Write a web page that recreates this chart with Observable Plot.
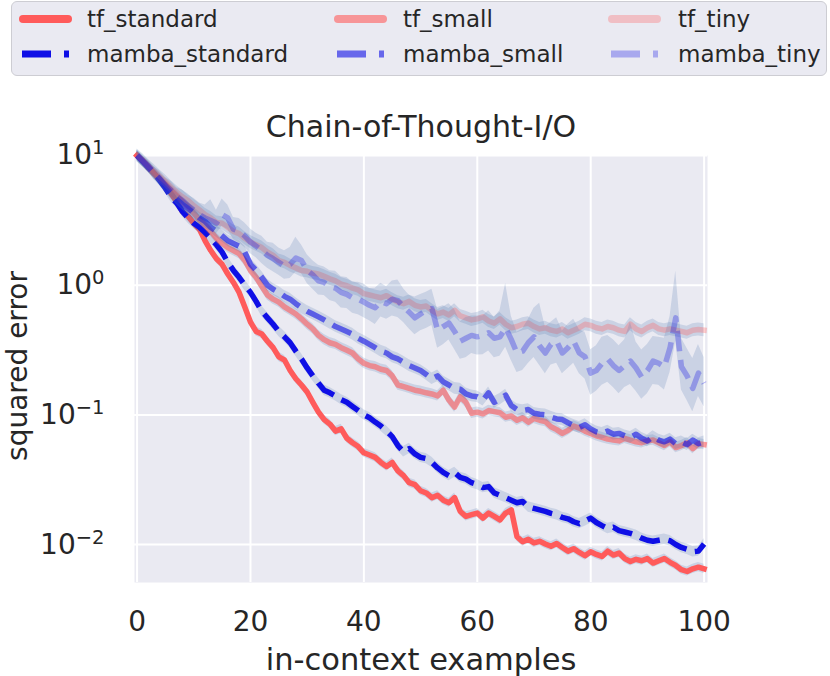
<!DOCTYPE html>
<html>
<head>
<meta charset="utf-8">
<script src="https://cdn.jsdelivr.net/npm/d3@7"></script>
<script src="https://cdn.jsdelivr.net/npm/@observablehq/plot@0.6"></script>
<style>
  html, body { margin: 0; padding: 0; background: #ffffff; }
  body { width: 830px; height: 676px; position: relative; overflow: hidden; font-family: "DejaVu Sans", sans-serif; color: #262626; }
  #legend { position: absolute; left: 11px; top: 1px; width: 816px; height: 75px; box-sizing: border-box;
            border: 1.5px solid #cdcdd3; border-radius: 6px; background: #eaeaf2; }
  .entry { position: absolute; height: 30px; }
  .entry svg { position: absolute; left: 0; top: 0; }
  .entry span { position: absolute; top: 0; line-height: 30px; font-size: 23px; white-space: nowrap; color: #262626; }
  #chart { position: absolute; left: 0; top: 80px; }
</style>
</head>
<body>
<div id="legend"></div>
<div id="chart"></div>
<script>
// ---------------- data ----------------
const xTicks = [0, 20, 40, 60, 80, 100];
const yTicks = [10, 1, 0.1, 0.01];
const seriesNames = ["tf_standard", "mamba_standard", "tf_small", "mamba_small", "tf_tiny", "mamba_tiny"];
const examples = d3.range(0, 101);

const tfStandard = [10,9.1,8.0,7.3,6.5,5.9,5.1,4.4,3.7,3.4,
  3.0,2.7,2.2,1.85,1.6,1.45,1.22,1.05,0.88,0.68,
  0.52,0.44,0.42,0.37,0.33,0.28,0.265,0.22,0.19,0.17,
  0.15,0.125,0.105,0.092,0.085,0.075,0.078,0.066,0.061,0.057,
  0.051,0.049,0.047,0.043,0.040,0.043,0.037,0.034,0.030,0.029,
  0.026,0.025,0.023,0.024,0.022,0.021,0.023,0.018,0.0165,0.017,
  0.0175,0.016,0.0175,0.0165,0.0155,0.0175,0.0185,0.0115,0.0105,0.011,
  0.0103,0.0106,0.0101,0.0097,0.0102,0.0095,0.0089,0.0093,0.0087,0.0082,
  0.0088,0.0084,0.0081,0.0089,0.0083,0.0086,0.0078,0.0074,0.0077,0.0075,
  0.0078,0.0072,0.0075,0.0078,0.0073,0.0069,0.0064,0.0062,0.0065,0.0067,
  0.0065];

const tfSmall = [10,9.0,8.2,7.2,6.6,6.0,5.4,4.9,4.4,4.0,
  3.6,3.2,2.9,2.6,2.3,2.1,1.95,1.85,1.75,1.55,
  1.3,1.15,0.98,0.84,0.78,0.74,0.68,0.64,0.6,0.55,
  0.5,0.46,0.41,0.38,0.36,0.35,0.33,0.315,0.3,0.27,
  0.25,0.24,0.235,0.225,0.22,0.2,0.17,0.165,0.16,0.155,
  0.152,0.148,0.145,0.14,0.155,0.13,0.115,0.138,0.125,0.103,
  0.105,0.102,0.108,0.106,0.104,0.096,0.098,0.091,0.095,0.088,
  0.094,0.091,0.089,0.081,0.077,0.072,0.076,0.082,0.079,0.075,
  0.072,0.069,0.067,0.065,0.064,0.063,0.066,0.064,0.062,0.061,
  0.063,0.064,0.061,0.058,0.062,0.056,0.058,0.061,0.055,0.06,
  0.059];

const tfTiny = [10,9.2,8.3,7.6,6.9,6.3,5.7,5.2,4.8,4.5,
  4.1,3.8,3.5,3.3,3.05,3.0,2.8,2.6,2.5,2.3,
  2.15,2.05,1.95,1.8,1.7,1.55,1.5,1.42,1.36,1.3,
  1.28,1.24,1.22,1.17,1.12,1.08,1.02,0.99,0.95,0.92,
  0.86,0.84,0.82,0.8,0.83,0.78,0.74,0.72,0.75,0.7,
  0.68,0.69,0.64,0.6,0.62,0.59,0.64,0.58,0.56,0.54,
  0.55,0.57,0.53,0.51,0.55,0.5,0.47,0.48,0.5,0.51,
  0.48,0.46,0.47,0.45,0.44,0.46,0.43,0.45,0.47,0.5,
  0.49,0.47,0.46,0.48,0.47,0.45,0.44,0.5,0.46,0.44,
  0.47,0.49,0.46,0.45,0.46,0.45,0.44,0.43,0.45,0.455,
  0.45];

const mambaStandard = [10,9.0,8.1,7.3,6.4,5.6,4.8,4.3,3.7,3.3,
  3.0,2.8,2.55,2.3,2.05,1.8,1.5,1.3,1.15,1.0,
  0.88,0.75,0.63,0.56,0.5,0.44,0.4,0.36,0.31,0.27,
  0.23,0.2,0.175,0.155,0.148,0.14,0.131,0.125,0.116,0.108,
  0.1,0.095,0.088,0.082,0.075,0.068,0.058,0.052,0.055,0.05,
  0.047,0.046,0.043,0.039,0.036,0.034,0.036,0.033,0.032,0.03,
  0.029,0.0275,0.028,0.025,0.024,0.023,0.022,0.021,0.0215,0.0195,
  0.019,0.0185,0.018,0.0174,0.017,0.0162,0.0158,0.015,0.0145,0.0152,
  0.016,0.0148,0.014,0.0133,0.0136,0.0128,0.0125,0.0122,0.0118,0.0112,
  0.0108,0.0106,0.0108,0.011,0.0107,0.01,0.0095,0.0092,0.0088,0.0089,
  0.0101];

const mambaSmall = [10,9.1,8.3,7.4,6.6,5.8,5.1,4.6,4.2,3.9,
  3.6,3.3,3.1,2.8,2.6,2.4,2.2,2.1,2.0,1.8,
  1.45,1.3,1.15,1.0,0.93,0.88,0.82,0.78,0.72,0.67,
  0.63,0.6,0.57,0.54,0.51,0.48,0.46,0.44,0.42,0.39,
  0.37,0.35,0.33,0.31,0.3,0.28,0.27,0.255,0.24,0.23,
  0.22,0.205,0.19,0.2,0.18,0.17,0.16,0.158,0.145,0.14,
  0.138,0.13,0.148,0.125,0.132,0.142,0.118,0.11,0.108,0.11,
  0.103,0.101,0.1,0.096,0.093,0.092,0.087,0.083,0.08,0.084,
  0.078,0.074,0.072,0.075,0.071,0.072,0.069,0.067,0.071,0.066,
  0.063,0.068,0.064,0.062,0.065,0.06,0.062,0.059,0.064,0.06,
  0.062];

const mambaTiny = [10,9.0,8.1,7.3,6.6,5.9,5.4,4.8,4.5,4.1,
  3.8,3.5,3.3,3.15,3.0,3.5,3.3,2.7,2.6,2.4,
  2.15,2.0,1.85,1.7,1.6,1.5,1.4,1.45,1.62,1.55,
  1.3,1.2,1.08,1.05,0.98,0.95,0.88,0.85,0.8,0.78,
  0.74,0.7,0.67,0.75,0.72,0.78,0.76,0.68,0.62,0.56,
  0.6,0.64,0.66,0.45,0.48,0.51,0.44,0.37,0.39,0.41,
  0.4,0.41,0.43,0.39,0.4,0.47,0.38,0.3,0.31,0.36,
  0.4,0.34,0.3,0.35,0.37,0.3,0.33,0.37,0.3,0.28,
  0.21,0.22,0.25,0.27,0.24,0.22,0.24,0.26,0.23,0.195,
  0.22,0.26,0.25,0.235,0.33,0.56,0.235,0.2,0.16,0.21,
  0.175];

// confidence band half-widths (log10 units)
const bandSpread = [0.035, 0.04, 0.04, 0.045, 0.05];   // tf_standard, mamba_standard, tf_small, mamba_small, tf_tiny
const mambaTinyUp = [0.03,0.04,0.05,0.05,0.06,0.06,0.07,0.07,0.08,0.08,
  0.09,0.09,0.10,0.16,0.10,0.12,0.10,0.09,0.10,0.10,
  0.10,0.10,0.11,0.10,0.12,0.11,0.12,0.13,0.16,0.12,
  0.12,0.11,0.12,0.12,0.12,0.13,0.12,0.13,0.12,0.13,
  0.14,0.13,0.15,0.14,0.13,0.14,0.16,0.14,0.13,0.16,
  0.15,0.14,0.15,0.16,0.15,0.15,0.17,0.15,0.16,0.15,
  0.16,0.15,0.17,0.16,0.20,0.34,0.18,0.16,0.17,0.18,
  0.22,0.33,0.20,0.17,0.18,0.17,0.18,0.17,0.18,0.19,
  0.18,0.19,0.20,0.18,0.20,0.19,0.20,0.30,0.20,0.21,
  0.20,0.19,0.20,0.22,0.24,0.36,0.22,0.21,0.23,0.22,
  0.20];
const mambaTinyDown = [0.03,0.04,0.04,0.05,0.05,0.06,0.06,0.06,0.07,0.07,
  0.07,0.08,0.08,0.08,0.08,0.09,0.09,0.08,0.09,0.09,
  0.09,0.09,0.10,0.10,0.10,0.10,0.10,0.11,0.11,0.10,
  0.10,0.11,0.11,0.10,0.11,0.11,0.12,0.11,0.12,0.12,
  0.12,0.12,0.13,0.12,0.12,0.13,0.13,0.12,0.13,0.13,
  0.13,0.14,0.13,0.14,0.14,0.13,0.14,0.14,0.15,0.14,
  0.14,0.15,0.14,0.15,0.15,0.15,0.16,0.15,0.15,0.16,
  0.16,0.15,0.16,0.16,0.17,0.16,0.16,0.17,0.16,0.17,
  0.17,0.16,0.17,0.18,0.17,0.18,0.17,0.18,0.18,0.17,
  0.18,0.18,0.17,0.18,0.19,0.18,0.18,0.19,0.18,0.18,
  0.18];

// ---------------- styles ----------------
const RED = "#ff5b5b", BLUE = "#0f0fe6";
const styles = {
  tf_standard:    {color: RED,  opacity: 1.0, dashed: false},
  tf_small:       {color: RED,  opacity: 0.6, dashed: false},
  tf_tiny:        {color: RED,  opacity: 0.3, dashed: false},
  mamba_standard: {color: BLUE, opacity: 1.0, dashed: true},
  mamba_small:    {color: BLUE, opacity: 0.6, dashed: true},
  mamba_tiny:     {color: BLUE, opacity: 0.3, dashed: true}
};
const valuesOf = {
  tf_standard: tfStandard, mamba_standard: mambaStandard,
  tf_small: tfSmall, mamba_small: mambaSmall,
  tf_tiny: tfTiny, mamba_tiny: mambaTiny
};

function rowsFor(name, idx) {
  const v = valuesOf[name];
  return examples.map((x, i) => {
    const up = name === "mamba_tiny" ? mambaTinyUp[i] : bandSpread[idx];
    const dn = name === "mamba_tiny" ? mambaTinyDown[i] : bandSpread[idx];
    return {x, y: v[i], lo: v[i] / Math.pow(10, dn), hi: v[i] * Math.pow(10, up)};
  });
}

const marks = [
  Plot.frame({fill: "#eaeaf2", stroke: null}),
  Plot.gridX(xTicks, {stroke: "#ffffff", strokeOpacity: 1, strokeWidth: 2}),
  Plot.gridY(yTicks, {stroke: "#ffffff", strokeOpacity: 1, strokeWidth: 2})
];
seriesNames.forEach((name, idx) => {
  const rows = rowsFor(name, idx);
  const s = styles[name];
  marks.push(Plot.areaY(rows, {x: "x", y1: "lo", y2: "hi", fill: "#4c72b0", fillOpacity: 0.2}));
  marks.push(Plot.lineY(rows, {
    x: "x", y: "y", stroke: s.color, strokeOpacity: s.opacity, strokeWidth: 5.5,
    strokeDasharray: s.dashed ? "20.4,8.8" : null,
    strokeLinecap: s.dashed ? "butt" : "square", strokeLinejoin: "round"
  }));
});
marks.push(Plot.axisX({ticks: xTicks, tickSize: 0, tickPadding: 29, fontSize: 28, label: null, tickFormat: d => String(d)}));
marks.push(Plot.axisY({ticks: yTicks, tickSize: 0, tickPadding: 30, fontSize: 28, label: null,
  tickFormat: d => String(Math.round(Math.log10(d)))}));

const svg = Plot.plot({
  width: 830, height: 596,
  marginTop: 75, marginBottom: 94, marginLeft: 134, marginRight: 123,
  style: {fontFamily: "DejaVu Sans, sans-serif", background: "transparent", color: "#262626", overflow: "visible"},
  x: {domain: [-0.45, 100.6]},
  y: {type: "log", domain: [0.0051, 10]},
  marks
});
document.getElementById("chart").appendChild(svg);

const S = d3.select(svg);
// superscript tick labels 10^n
S.selectAll('g[aria-label="y-axis tick label"] text').each(function () {
  const e = this.textContent.replace("-", "\u2212");
  const t = d3.select(this);
  t.text(null);
  t.append("tspan").text("10");
  t.append("tspan").attr("dy", -10).attr("font-size", 19.5).text(e);
});
S.append("text").attr("x", 421).attr("y", 57).attr("text-anchor", "middle")
  .attr("font-size", 30).attr("fill", "#262626").text("Chain-of-Thought-I/O");
S.append("text").attr("x", 421).attr("y", 590).attr("text-anchor", "middle")
  .attr("font-size", 30.5).attr("fill", "#262626").text("in-context examples");
S.append("text").attr("transform", "translate(27,286) rotate(-90)").attr("text-anchor", "middle")
  .attr("font-size", 28).attr("fill", "#262626").text("squared error");

// ---------------- legend ----------------
const legendCols = [{line: 18, text: 86}, {line: 333, text: 402}, {line: 607, text: 677}];
const legendRows = [["tf_standard", "tf_small", "tf_tiny"], ["mamba_standard", "mamba_small", "mamba_tiny"]];
const legendY = [18, 53];
const legend = document.getElementById("legend");
legendRows.forEach((row, r) => {
  row.forEach((name, c) => {
    const s = styles[name];
    const col = legendCols[c];
    const div = document.createElement("div");
    div.className = "entry";
    div.style.left = (col.line - 11) + "px";
    div.style.top = (legendY[r] - 1 - 15) + "px";
    div.style.width = "300px";
    const sw = s.dashed
      ? `<line x1="3" x2="50" y1="15" y2="15" stroke="${s.color}" stroke-opacity="${s.opacity}" stroke-width="7" stroke-dasharray="29,13" stroke-linecap="butt"/>`
      : `<line x1="4" x2="49" y1="15" y2="15" stroke="${s.color}" stroke-opacity="${s.opacity}" stroke-width="8" stroke-linecap="round"/>`;
    div.innerHTML = `<svg width="60" height="30">${sw}</svg><span style="left:${col.text - col.line}px">${name}</span>`;
    legend.appendChild(div);
  });
});
</script>
</body>
</html>
